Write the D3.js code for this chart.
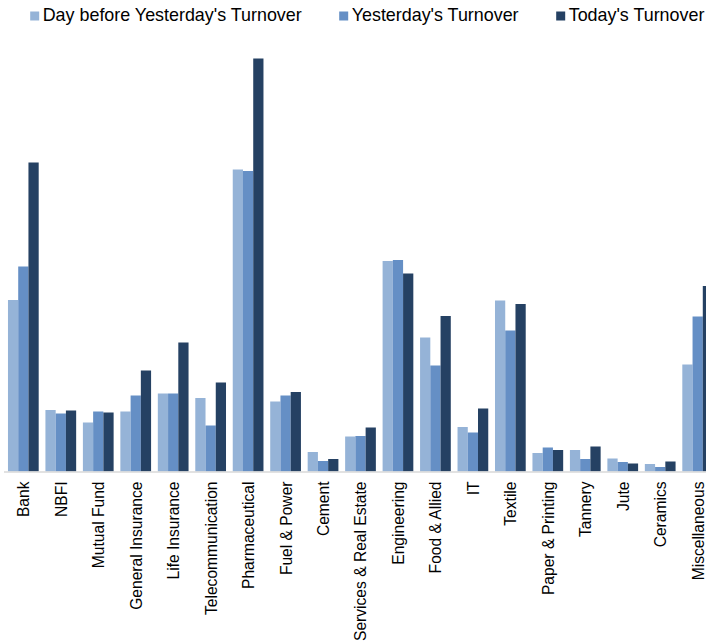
<!DOCTYPE html>
<html>
<head>
<meta charset="utf-8">
<script src="https://cdn.jsdelivr.net/npm/d3@7"></script>
<style>
    body { margin: 0; background: #fff; }
    svg { display: block; font-family: "Liberation Sans", Arial, sans-serif; }
</style>
</head>
<body>
<svg id="chart" width="706" height="644"></svg>
<script>
// Sector turnover (no axis, relative units)
const categories = ['Bank', 'NBFI', 'Mutual Fund', 'General Insurance', 'Life Insurance',
    'Telecommunication', 'Pharmaceutical', 'Fuel & Power', 'Cement', 'Services & Real Estate',
    'Engineering', 'Food & Allied', 'IT', 'Textile', 'Paper & Printing', 'Tannery', 'Jute',
    'Ceramics', 'Miscellaneous'];

const seriesNames = ["Day before Yesterday's Turnover", "Yesterday's Turnover", "Today's Turnover"];

const dayBeforeYesterday = [171.5, 61.5, 49, 60, 78, 73.5, 302, 70, 19.5, 35, 210.5, 134, 44.5, 171, 18.5, 21.5, 13, 7.5, 107];
const yesterday = [205, 58, 60, 76, 78, 46, 300.5, 76, 10.5, 35.5, 211.5, 106, 39, 141, 24, 12.5, 9.5, 4.5, 155];
const today = [309, 61, 59, 101, 129, 89, 413, 79.5, 12.5, 44, 198, 155.5, 63, 167.5, 21.5, 25, 8, 10, 185.5];

const colors = ['#95b3d7', '#658fc5', '#254163'];

const svg = d3.select('#chart');
const baseY = 471.5;
const topY = 58.5;

const seriesData = [dayBeforeYesterday, yesterday, today];

const x0 = d3.scaleBand()
    .domain(categories)
    .range([4.6, 716.4])
    .padding(0);

const step = x0.step();
const gap = step * 0.18;

const x1 = d3.scaleBand()
    .domain(d3.range(seriesNames.length))
    .range([gap / 2, step - gap / 2])
    .padding(0);

const y = d3.scaleLinear()
    .domain([0, d3.max(today)])
    .range([baseY, topY]);

// bars
const groups = svg.append('g')
    .selectAll('g')
    .data(categories)
    .join('g')
    .attr('transform', d => `translate(${x0(d)},0)`);

groups.selectAll('rect')
    .data((d, i) => seriesData.map((s, k) => ({ k: k, value: s[i] })))
    .join('rect')
    .attr('x', d => x1(d.k))
    .attr('y', d => y(d.value))
    .attr('width', x1.bandwidth())
    .attr('height', d => baseY - y(d.value))
    .attr('fill', d => colors[d.k]);

// baseline
svg.append('line')
    .attr('x1', 4)
    .attr('x2', 706)
    .attr('y1', baseY + 0.5)
    .attr('y2', baseY + 0.5)
    .attr('stroke', '#d9d9d9')
    .attr('stroke-width', 1.5);

// category labels, rotated
svg.append('g')
    .selectAll('text')
    .data(categories)
    .join('text')
    .attr('transform', d => `translate(${x0(d) + step / 2 + 0.5},${baseY + 10}) rotate(-90)`)
    .attr('text-anchor', 'end')
    .attr('dy', '0.35em')
    .style('font-size', '15.6px')
    .attr('fill', '#000')
    .text(d => d);

// legend
const legendX = [42.7, 351.7, 568.7];
const legend = svg.append('g')
    .selectAll('g')
    .data(seriesNames)
    .join('g')
    .attr('transform', (d, i) => `translate(${legendX[i]},0)`);

legend.append('rect')
    .attr('x', -12.5)
    .attr('y', 11.5)
    .attr('width', 9)
    .attr('height', 9)
    .attr('fill', (d, i) => colors[i]);

legend.append('text')
    .attr('x', 0)
    .attr('y', 21.3)
    .style('font-size', '17.9px')
    .attr('fill', '#000')
    .text(d => d);
</script>
</body>
</html>
